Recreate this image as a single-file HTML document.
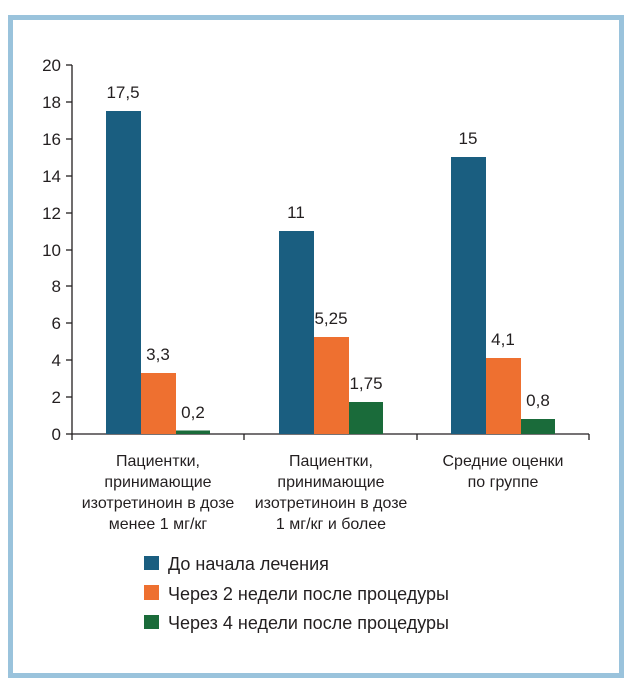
<!DOCTYPE html>
<html><head><meta charset="utf-8"><style>
html,body{margin:0;padding:0;background:#fff;width:630px;height:682px;overflow:hidden}
svg{display:block;font-family:"Liberation Sans",Arial,sans-serif;fill:#231f20}
</style></head><body>
<svg width="630" height="682" viewBox="0 0 630 682">
<rect x="10.5" y="17.5" width="611" height="658" fill="#fff" stroke="#9ac3dc" stroke-width="5"/>
<g stroke="#231f20" stroke-width="1.3" fill="none">
<line x1="72" y1="65" x2="72" y2="434"/>
<line x1="72" y1="434" x2="589" y2="434"/>
<line x1="66" y1="65" x2="72" y2="65"/><line x1="66" y1="102" x2="72" y2="102"/>
<line x1="66" y1="139" x2="72" y2="139"/><line x1="66" y1="176" x2="72" y2="176"/>
<line x1="66" y1="213" x2="72" y2="213"/><line x1="66" y1="250" x2="72" y2="250"/>
<line x1="66" y1="286" x2="72" y2="286"/><line x1="66" y1="323" x2="72" y2="323"/>
<line x1="66" y1="360" x2="72" y2="360"/><line x1="66" y1="397" x2="72" y2="397"/>
<line x1="66" y1="434" x2="72" y2="434"/>
<line x1="72" y1="434" x2="72" y2="440"/><line x1="244" y1="434" x2="244" y2="440"/>
<line x1="417" y1="434" x2="417" y2="440"/><line x1="589" y1="434" x2="589" y2="440"/>
</g>
<g font-size="17" text-anchor="end">
<text x="61" y="71">20</text><text x="61" y="108">18</text><text x="61" y="145">16</text>
<text x="61" y="182">14</text><text x="61" y="219">12</text><text x="61" y="256">10</text>
<text x="61" y="292">8</text><text x="61" y="329">6</text><text x="61" y="366">4</text>
<text x="61" y="403">2</text><text x="61" y="440">0</text>
</g>
<g>
<rect x="106" y="111" width="35" height="323" fill="#1a5e80"/>
<rect x="141" y="373" width="35" height="61" fill="#ee7030"/>
<rect x="176" y="430.5" width="34" height="3.5" fill="#1a6b3a"/>
<rect x="279" y="231" width="35" height="203" fill="#1a5e80"/>
<rect x="314" y="337" width="35" height="97" fill="#ee7030"/>
<rect x="349" y="402" width="34" height="32" fill="#1a6b3a"/>
<rect x="451" y="157" width="35" height="277" fill="#1a5e80"/>
<rect x="486" y="358" width="35" height="76" fill="#ee7030"/>
<rect x="521" y="419" width="34" height="15" fill="#1a6b3a"/>
</g>
<g font-size="17" text-anchor="middle">
<text x="123" y="98">17,5</text><text x="158" y="360">3,3</text><text x="193" y="418">0,2</text>
<text x="296" y="218">11</text><text x="331" y="324">5,25</text><text x="366" y="389">1,75</text>
<text x="468" y="144">15</text><text x="503" y="345">4,1</text><text x="538" y="406">0,8</text>
</g>
<g font-size="16" text-anchor="middle">
<text x="158" y="466">Пациентки,</text><text x="158" y="487">принимающие</text>
<text x="158" y="508">изотретиноин в дозе</text><text x="158" y="529">менее 1 мг/кг</text>
<text x="331" y="466">Пациентки,</text><text x="331" y="487">принимающие</text>
<text x="331" y="508">изотретиноин в дозе</text><text x="331" y="529">1 мг/кг и более</text>
<text x="503" y="466">Средние оценки</text><text x="503" y="487">по группе</text>
</g>
<rect x="144" y="556" width="15" height="14" fill="#1a5e80"/>
<rect x="144" y="585" width="15" height="15" fill="#ee7030"/>
<rect x="144" y="615" width="15" height="14" fill="#1a6b3a"/>
<g font-size="18">
<text x="168" y="570">До начала лечения</text>
<text x="168" y="600">Через 2 недели после процедуры</text>
<text x="168" y="629">Через 4 недели после процедуры</text>
</g>
</svg>
</body></html>
